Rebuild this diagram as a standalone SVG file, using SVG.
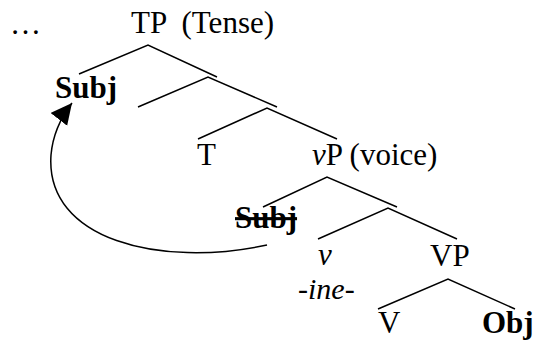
<svg xmlns="http://www.w3.org/2000/svg" width="533" height="341" viewBox="0 0 533 341">
<style>
text{font-family:"Liberation Serif","Times New Roman",serif;font-size:31px;fill:#000}
.b{font-weight:bold}
.i{font-style:italic}
.e{stroke:#000;stroke-width:1.5;fill:none}
</style>
<defs>
<marker id="ah" markerUnits="userSpaceOnUse" markerWidth="22" markerHeight="22" viewBox="0 0 22 22" refX="21" refY="11" orient="auto">
<path d="M0,0 L21,11 L0,21 z" fill="#000"/>
</marker>
</defs>
<g id="connectors">
<path class="e" d="M79,74 L148,45 L217,77"/>
<path class="e" d="M138,107 L208,77 L277,107"/>
<path class="e" d="M198,139 L267,108 L337,139"/>
<path class="e" d="M263,207 L327,177 L397,207"/>
<path class="e" d="M318,239 L388,208 L457,239"/>
<path class="e" d="M378,309 L448,279 L515,309"/>
<path class="e" d="M267,245 C160,268 45,240 51,155 C53,132 62,116 72,103" marker-end="url(#ah)"/>
</g>
<g id="ellipsis"><text x="10" y="34">…</text></g>
<g id="TP"><text x="131" y="33" xml:space="preserve">TP  (Tense)</text></g>
<g id="Subj"><text class="b" x="55" y="98">Subj</text></g>
<g id="T"><text x="197" y="165">T</text></g>
<g id="vP"><text x="312" y="165"><tspan class="i">v</tspan>P (voice)</text></g>
<g id="SubjTrace"><text class="b" x="235" y="228" text-decoration="line-through">Subj</text></g>
<g id="v"><text class="i" x="318" y="265">v</text></g>
<g id="ine"><text class="i" x="298" y="299" style="font-size:30px">-ine-</text></g>
<g id="VP"><text x="430" y="266">VP</text></g>
<g id="V"><text x="378" y="333">V</text></g>
<g id="Obj"><text class="b" x="482" y="333">Obj</text></g>
</svg>
